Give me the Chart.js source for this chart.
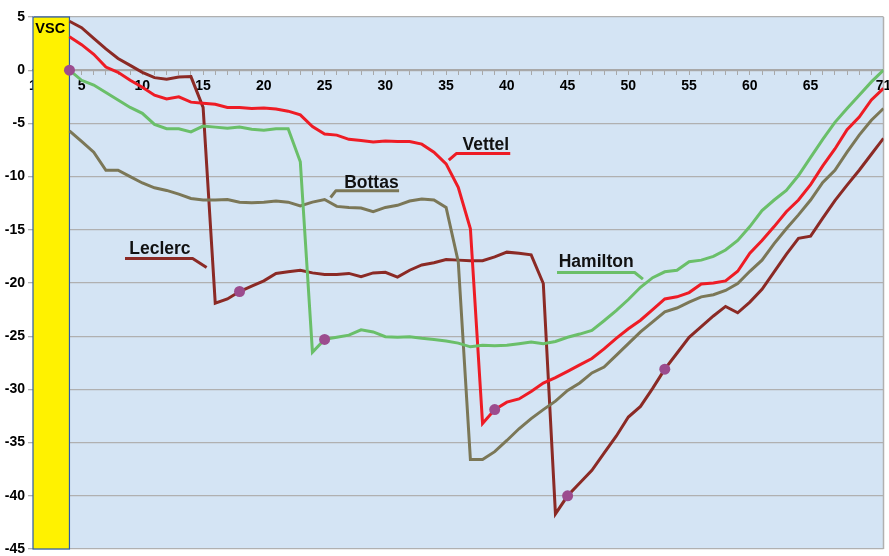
<!DOCTYPE html>
<html>
<head>
<meta charset="utf-8">
<script src="https://cdn.jsdelivr.net/npm/chart.js@4/dist/chart.umd.min.js"></script>
<style>
  html, body { margin: 0; padding: 0; background: #fff; }
</style>
</head>
<body>
<canvas id="gapChart" width="889" height="556"></canvas>
<script>
// Круги (с 4-го круга, после VSC)
var laps = [];
for (var l = 4; l <= 71; l++) laps.push(l);

// Отставание от лидера, сек
var leclerc = [4.6, 4.0, 3.0, 2.0, 1.1, 0.45, -0.2, -0.7, -0.85, -0.65, -0.6, -3.5,
  -21.9, -21.5, -20.8, -20.3, -19.8, -19.1, -18.95, -18.8, -19.05, -19.2, -19.2, -19.1,
  -19.4, -19.05, -19.0, -19.45, -18.8, -18.3, -18.1, -17.8, -17.85, -17.9, -17.9, -17.55,
  -17.1, -17.2, -17.35, -20.05, -41.7, -40.0, -38.8, -37.6, -36.0, -34.4, -32.6, -31.6,
  -29.9, -28.1, -26.6, -25.1, -24.1, -23.1, -22.2, -22.8, -21.8, -20.6, -18.95, -17.3,
  -15.8, -15.6, -13.9, -12.25, -10.8, -9.4, -7.9, -6.4];
var vettel = [3.15, 2.4, 1.5, 0.3, -0.2, -0.95, -1.6, -2.35, -2.7, -2.5, -3.0, -3.1,
  -3.2, -3.5, -3.5, -3.6, -3.55, -3.65, -3.85, -4.2, -5.3, -6.0, -6.1, -6.5,
  -6.6, -6.75, -6.65, -6.7, -6.7, -6.95, -7.7, -8.8, -11.0, -14.9, -33.2, -31.9,
  -31.2, -30.9, -30.2, -29.4, -28.9, -28.3, -27.7, -27.1, -26.2, -25.2, -24.3, -23.5,
  -22.5, -21.5, -21.3, -20.9, -20.1, -20.0, -19.8, -18.9, -17.2, -16.0, -14.7, -13.3,
  -12.2, -10.75, -9.0, -7.4, -5.6, -4.4, -2.8, -1.7];
var hamilton = [0, -0.95, -1.4, -2.1, -2.8, -3.5, -4.05, -5.1, -5.5, -5.5, -5.8, -5.25,
  -5.35, -5.45, -5.35, -5.55, -5.65, -5.5, -5.5, -8.6, -26.5, -25.3, -25.1, -24.9,
  -24.4, -24.6, -25.05, -25.1, -25.05, -25.2, -25.3, -25.45, -25.65, -26.0, -25.85, -25.9,
  -25.85, -25.7, -25.55, -25.7, -25.5, -25.1, -24.8, -24.45, -23.55, -22.6, -21.55, -20.4,
  -19.5, -18.95, -18.8, -18.0, -17.85, -17.5, -16.9, -16.0, -14.7, -13.2, -12.2, -11.3,
  -9.9, -8.2, -6.5, -4.9, -3.6, -2.35, -1.1, 0];
var bottas = [-5.7, -6.7, -7.7, -9.4, -9.4, -10.0, -10.6, -11.05, -11.3, -11.65, -12.05, -12.2,
  -12.2, -12.15, -12.4, -12.45, -12.4, -12.3, -12.4, -12.75, -12.4, -12.15, -12.8, -12.9,
  -12.95, -13.3, -12.9, -12.7, -12.3, -12.1, -12.2, -12.9, -18.0, -36.6, -36.6, -35.85,
  -34.8, -33.7, -32.75, -31.9, -31.1, -30.1, -29.4, -28.45, -27.9, -26.8, -25.7, -24.6,
  -23.65, -22.7, -22.35, -21.8, -21.3, -21.1, -20.7, -20.05, -18.9, -17.85, -16.3, -14.9,
  -13.6, -12.2, -10.55, -9.4, -7.7, -6.1, -4.7, -3.6];

// Пит-стопы (круги с точками)
var leclercStops = [18, 45, 53];
var vettelStops = [39];
var hamiltonStops = [4, 25];
var bottasStops = [];

// Подписи осей
var xTickLabels = [1, 5, 10, 15, 20, 25, 30, 35, 40, 45, 50, 55, 60, 65, 71];
var vscLaps = [1, 4];

var colLeclerc = '#8b2a25';
var colVettel = '#ee1c25';
var colHamilton = '#6abf69';
var colBottas = '#7b7757';
var colStop = '#9c4c8e';

// Подписи пилотов (координаты: круг, секунды)
var driverLabels = [
  { text: 'Vettel', color: colVettel, at: [36.35, -7.47], leader: [[35.22, -8.46], [35.84, -7.83], [40.28, -7.83]] },
  { text: 'Bottas', color: colBottas, at: [26.61, -11.09], leader: [[25.49, -11.96], [25.92, -11.34], [31.13, -11.34]] },
  { text: 'Leclerc', color: colLeclerc, at: [8.92, -17.29], leader: [[8.57, -17.7], [14.14, -17.7], [15.29, -18.54]] },
  { text: 'Hamilton', color: colHamilton, at: [44.27, -18.52], leader: [[44.13, -19.01], [50.52, -19.01], [51.2, -19.64]] }
];

function toPoints(values) {
  return values.map(function(v, i) { return { x: laps[i], y: v }; });
}

function makeSet(name, values, color, stops) {
  return {
    label: name,
    data: toPoints(values),
    borderColor: color,
    borderWidth: 3,
    tension: 0,
    pointRadius: function(ctx) { return stops.indexOf(laps[ctx.dataIndex]) >= 0 ? 5.5 : 0; },
    pointBackgroundColor: colStop,
    pointBorderWidth: 0
  };
}

var plotBg = {
  id: 'plotBg',
  beforeDraw: function(chart) {
    var a = chart.chartArea, c = chart.ctx;
    c.save();
    c.fillStyle = '#d4e4f4';
    c.fillRect(a.left, a.top, a.right - a.left, a.bottom - a.top);
    c.restore();
  },
  beforeDatasetsDraw: function(chart) {
    var a = chart.chartArea, c = chart.ctx, x = chart.scales.x;
    var x1 = x.getPixelForValue(vscLaps[0]), x2 = x.getPixelForValue(vscLaps[1]);
    c.save();
    // правая рамка
    c.strokeStyle = '#b0b0b0';
    c.lineWidth = 1.5;
    c.beginPath();
    c.moveTo(a.right, a.top);
    c.lineTo(a.right, a.bottom);
    c.stroke();
    // полоса VSC
    c.fillStyle = '#fff200';
    c.fillRect(x1, a.top, x2 - x1, a.bottom - a.top);
    c.strokeStyle = '#2b5aa8';
    c.lineWidth = 1.2;
    c.strokeRect(x1, a.top, x2 - x1, a.bottom - a.top);
    c.fillStyle = '#000';
    c.font = 'bold 14.5px "Liberation Sans", Arial, sans-serif';
    c.textAlign = 'center';
    c.textBaseline = 'alphabetic';
    c.fillText('VSC', (x1 + x2) / 2 - 1, a.top + 16);
    c.restore();
  },
  afterDatasetsDraw: function(chart) {
    var c = chart.ctx, xs = chart.scales.x, ys = chart.scales.y;
    c.save();
    driverLabels.forEach(function(d) {
      c.strokeStyle = d.color;
      c.lineWidth = 3;
      c.lineJoin = 'round';
      c.beginPath();
      d.leader.forEach(function(p, i) {
        var px = xs.getPixelForValue(p[0]), py = ys.getPixelForValue(p[1]);
        if (i === 0) c.moveTo(px, py); else c.lineTo(px, py);
      });
      c.stroke();
      c.fillStyle = '#111';
      c.font = 'bold 17.5px "Liberation Sans", Arial, sans-serif';
      c.textAlign = 'left';
      c.textBaseline = 'alphabetic';
      c.fillText(d.text, xs.getPixelForValue(d.at[0]), ys.getPixelForValue(d.at[1]));
    });
    c.restore();
  }
};

var ctx = document.getElementById('gapChart').getContext('2d');
var gapChart = new Chart(ctx, {
  type: 'line',
  data: {
    datasets: [
      makeSet('Hamilton', hamilton, colHamilton, hamiltonStops),
      makeSet('Bottas', bottas, colBottas, bottasStops),
      makeSet('Vettel', vettel, colVettel, vettelStops),
      makeSet('Leclerc', leclerc, colLeclerc, leclercStops)
    ]
  },
  options: {
    responsive: false,
    animation: false,
    events: [],
    layout: { padding: { top: 17, right: 5, bottom: 7, left: 0 } },
    plugins: {
      legend: { display: false },
      tooltip: { enabled: false }
    },
    scales: {
      x: {
        type: 'linear',
        min: 1,
        max: 71,
        position: { y: 0 },
        afterBuildTicks: function(axis) {
          var t = [];
          for (var i = 1; i <= 71; i++) t.push({ value: i });
          axis.ticks = t;
        },
        afterFit: function(axis) { axis.paddingLeft = 0; axis.paddingRight = 0; },
        ticks: {
          autoSkip: false,
          maxRotation: 0,
          padding: 4,
          color: '#000',
          font: { family: '"Liberation Sans", Arial, sans-serif', size: 14, weight: 'bold' },
          callback: function(v) { return xTickLabels.indexOf(v) >= 0 ? String(v) : ''; }
        },
        grid: { drawOnChartArea: false, tickLength: 4, color: '#a8a8a8', lineWidth: 1 },
        border: { display: true, color: '#a8a8a8', width: 2 }
      },
      y: {
        min: -45,
        max: 5,
        afterFit: function(axis) { axis.width = 33; axis.paddingTop = 0; axis.paddingBottom = 0; },
        ticks: {
          stepSize: 5,
          padding: 3,
          color: '#000',
          font: { family: '"Liberation Sans", Arial, sans-serif', size: 14, weight: 'bold' }
        },
        grid: { color: '#b0b0b0', lineWidth: 1.3, tickLength: 5 },
        border: { display: true, color: '#b0b0b0' }
      }
    }
  },
  plugins: [plotBg]
});
</script>
</body>
</html>
